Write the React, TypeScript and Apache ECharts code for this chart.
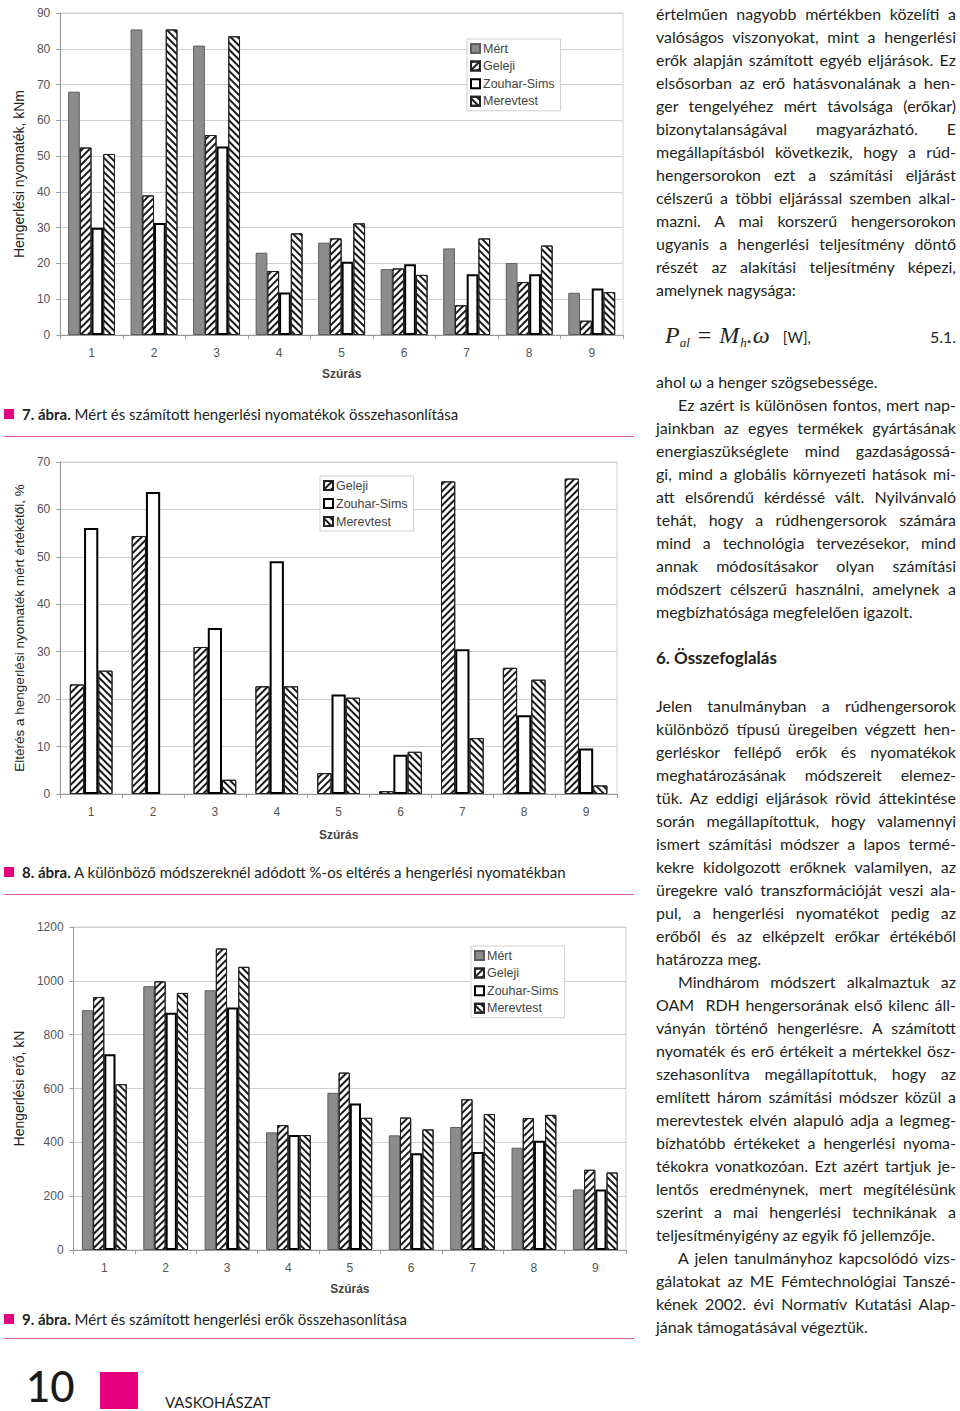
import React, { useEffect, useRef } from "react";
import * as echarts from "echarts";

// ---------- DATA ----------
const categories = ["1", "2", "3", "4", "5", "6", "7", "8", "9"];

// Fig. 7 – rolling torque, kNm
const torqueMert = [68, 85.4, 80.9, 23, 25.8, 18.4, 24.2, 20.1, 11.8];
const torqueGeleji = [52.4, 39, 55.9, 17.9, 27, 18.6, 8.3, 14.8, 4];
const torqueZouhar = [30, 31.3, 52.7, 11.9, 20.5, 19.8, 17, 17, 13];
const torqueMerev = [50.6, 85.4, 83.5, 28.4, 31.2, 16.8, 27, 25, 12];
const torqueTicks = { min: 0, max: 90, interval: 10 };

// Fig. 8 – deviation from measured torque, %
const devGeleji = [23.1, 54.4, 31, 22.7, 4.4, 0.6, 65.9, 26.6, 66.5];
const devZouhar = [56.1, 63.7, 35, 49.1, 21, 8.3, 30.5, 16.6, 9.6];
const devMerev = [26, null, 3, 22.7, 20.3, 8.9, 11.8, 24.1, 1.8];
const devTicks = { min: 0, max: 70, interval: 10 };

// Fig. 9 – rolling force, kN
const forceMert = [891, 980, 965, 437, 584, 426, 457, 380, 225];
const forceGeleji = [940, 998, 1120, 464, 659, 492, 560, 490, 298];
const forceZouhar = [727, 881, 901, 427, 544, 359, 364, 406, 225];
const forceMerev = [616, 955, 1052, 427, 491, 448, 505, 502, 288];
const forceTicks = { min: 0, max: 1200, interval: 200 };

// ---------- TEXT ----------
const captions = [
  { num: "7. ábra.", text: " Mért és számított hengerlési nyomatékok összehasonlítása" },
  { num: "8. ábra.", text: " A különböző módszereknél adódott %-os eltérés a hengerlési nyomatékban" },
  { num: "9. ábra.", text: " Mért és számított hengerlési erők összehasonlítása" },
];

const para1 = [
  "értelműen nagyobb mértékben közelíti a",
  "valóságos viszonyokat, mint a hengerlési",
  "erők alapján számított egyéb eljárások. Ez",
  "elsősorban az erő hatásvonalának a hen-",
  "ger tengelyéhez mért távolsága (erőkar)",
  "bizonytalanságával magyarázható. E",
  "megállapításból következik, hogy a rúd-",
  "hengersorokon ezt a számítási eljárást",
  "célszerű a többi eljárással szemben alkal-",
  "mazni. A mai korszerű hengersorokon",
  "ugyanis a hengerlési teljesítmény döntő",
  "részét az alakítási teljesítmény képezi,",
  "amelynek nagysága:",
];
const para2 = ["ahol ω a henger szögsebessége."];
const para3 = [
  "Ez azért is különösen fontos, mert nap-",
  "jainkban az egyes termékek gyártásának",
  "energiaszükséglete mind gazdaságossá-",
  "gi, mind a globális környezeti hatások mi-",
  "att elsőrendű kérdéssé vált. Nyilvánvaló",
  "tehát, hogy a rúdhengersorok számára",
  "mind a technológia tervezésekor, mind",
  "annak módosításakor olyan számítási",
  "módszert célszerű használni, amelynek a",
  "megbízhatósága megfelelően igazolt.",
];
const heading = "6. Összefoglalás";
const para4 = [
  "Jelen tanulmányban a rúdhengersorok",
  "különböző típusú üregeiben végzett hen-",
  "gerléskor fellépő erők és nyomatékok",
  "meghatározásának módszereit elemez-",
  "tük. Az eddigi eljárások rövid áttekintése",
  "során megállapítottuk, hogy valamennyi",
  "ismert számítási módszer a lapos termé-",
  "kekre kidolgozott erőknek valamilyen, az",
  "üregekre való transzformációját veszi ala-",
  "pul, a hengerlési nyomatékot pedig az",
  "erőből és az elképzelt erőkar értékéből",
  "határozza meg.",
];
const para5 = [
  "Mindhárom módszert alkalmaztuk az",
  "OAM\u00a0\u00a0RDH hengersorának első kilenc áll-",
  "ványán történő hengerlésre. A számított",
  "nyomaték és erő értékeit a mértekkel ösz-",
  "szehasonlítva megállapítottuk, hogy az",
  "említett három számítási módszer közül a",
  "merevtestek elvén alapuló adja a legmeg-",
  "bízhatóbb értékeket a hengerlési nyoma-",
  "tékokra vonatkozóan. Ezt azért tartjuk je-",
  "lentős eredménynek, mert megítélésünk",
  "szerint a mai hengerlési technikának a",
  "teljesítményigény az egyik fő jellemzője.",
];
const para6 = [
  "A jelen tanulmányhoz kapcsolódó vizs-",
  "gálatokat az ME Fémtechnológiai Tanszé-",
  "kének 2002. évi Normatív Kutatási Alap-",
  "jának támogatásával végeztük.",
];

// ---------- STYLES ----------
const MAGENTA = "#e5007d";
const seriesStyles: Record<string, any> = {
  "Mért": { color: "#8c8c8c", borderColor: "#5e5e5e", borderWidth: 1 },
  Geleji: {
    color: "#ffffff",
    borderColor: "#222",
    borderWidth: 1,
    decal: { symbol: "rect", symbolSize: 1, dashArrayX: [1, 0], dashArrayY: [1.5, 2.3], rotation: -Math.PI / 4, color: "#1a1a1a" },
  },
  "Zouhar-Sims": { color: "#ffffff", borderColor: "#000", borderWidth: 2 },
  Merevtest: {
    color: "#ffffff",
    borderColor: "#222",
    borderWidth: 1,
    decal: { symbol: "rect", symbolSize: 1, dashArrayX: [1, 0], dashArrayY: [2, 2.3], rotation: Math.PI / 4, color: "#1a1a1a" },
  },
};

const FONT = "Arial, 'Liberation Sans', sans-serif";

function buildOption(cfg: any) {
  return {
    animation: false,
    backgroundColor: "#fff",
    grid: { ...cfg.grid, show: true, borderColor: "#cfcfcf", borderWidth: 1, containLabel: false },
    legend: {
      orient: "vertical",
      left: cfg.legend.left,
      top: cfg.legend.top,
      icon: "rect",
      itemWidth: 9,
      itemHeight: 9,
      itemGap: cfg.legend.gap,
      padding: [3, 6, 3, 3],
      borderColor: "#cfcfcf",
      borderWidth: 1,
      backgroundColor: "#fff",
      textStyle: { fontFamily: FONT, fontSize: 12.5, color: "#444", lineHeight: 13, padding: [0, 0, 0, -2] },
      data: cfg.series.map((s: any) => s.name),
    },
    xAxis: {
      type: "category",
      data: categories,
      name: "Szúrás",
      nameLocation: "middle",
      nameGap: cfg.xNameGap,
      nameTextStyle: { fontFamily: FONT, fontSize: 12, fontWeight: "bold", color: "#444" },
      axisLine: { lineStyle: { color: "#9a9a9a" } },
      axisTick: { show: true, length: 4, lineStyle: { color: "#9a9a9a" } },
      axisLabel: { fontFamily: FONT, fontSize: 12, color: "#555", margin: 12 },
      splitLine: { show: false },
    },
    yAxis: {
      type: "value",
      min: cfg.ticks.min,
      max: cfg.ticks.max,
      interval: cfg.ticks.interval,
      name: cfg.yName,
      nameLocation: "middle",
      nameGap: cfg.yNameGap,
      nameTextStyle: { fontFamily: FONT, fontSize: cfg.yNameSize, color: "#222" },
      axisLine: { show: true, lineStyle: { color: "#9a9a9a" } },
      axisTick: { show: true, length: 4, lineStyle: { color: "#9a9a9a" } },
      axisLabel: { fontFamily: FONT, fontSize: 12, color: "#555", margin: 10, formatter: (v: number) => String(v) },
      splitLine: { show: true, lineStyle: { color: "#cfcfcf", width: 1 } },
    },
    series: cfg.series.map((s: any) => ({
      type: "bar",
      name: s.name,
      data: s.data,
      barGap: "0%",
      barCategoryGap: cfg.barCategoryGap,
      itemStyle: seriesStyles[s.name],
      emphasis: { disabled: true },
    })),
  };
}

const option7 = buildOption({
  grid: { left: 54, top: 13, width: 565, height: 322 },
  legend: { left: 463, top: 39, gap: 4.6 },
  ticks: torqueTicks,
  yName: "Hengerlési nyomaték, kNm",
  yNameGap: 33,
  yNameSize: 14,
  xNameGap: 33,
  barCategoryGap: "25%",
  series: [
    { name: "Mért", data: torqueMert },
    { name: "Geleji", data: torqueGeleji },
    { name: "Zouhar-Sims", data: torqueZouhar },
    { name: "Merevtest", data: torqueMerev },
  ],
});

const option8 = buildOption({
  grid: { left: 54, top: 15, width: 559, height: 332 },
  legend: { left: 316, top: 29, gap: 5 },
  ticks: devTicks,
  yName: "Eltérés a hengerlési nyomaték mért értékétől, %",
  yNameGap: 33,
  yNameSize: 13.5,
  xNameGap: 35,
  barCategoryGap: "31%",
  series: [
    { name: "Geleji", data: devGeleji },
    { name: "Zouhar-Sims", data: devZouhar },
    { name: "Merevtest", data: devMerev },
  ],
});

const option9 = buildOption({
  grid: { left: 69, top: 22, width: 553, height: 323 },
  legend: { left: 467, top: 41, gap: 4.6 },
  ticks: forceTicks,
  yName: "Hengerlési erő, kN",
  yNameGap: 40,
  yNameSize: 14,
  xNameGap: 33,
  barCategoryGap: "27%",
  series: [
    { name: "Mért", data: forceMert },
    { name: "Geleji", data: forceGeleji },
    { name: "Zouhar-Sims", data: forceZouhar },
    { name: "Merevtest", data: forceMerev },
  ],
});

function Chart({ option, left, top, width, height }: any) {
  const ref = useRef<HTMLDivElement>(null);
  useEffect(() => {
    if (!ref.current) return;
    const chart = echarts.init(ref.current, undefined, { renderer: "svg" });
    chart.setOption(option);
    return () => chart.dispose();
  }, [option]);
  return (
    <div style={{ position: "absolute", left, top, width, height, border: "1px solid #4a4a4a", boxSizing: "border-box", background: "#fff" }}>
      <div ref={ref} style={{ position: "absolute", left: -1, top: -1, width, height }} />
    </div>
  );
}

const TEXT_FONT = "Lato, 'Open Sans', sans-serif";
const LINE_H = 23;

function Para({ lines, y, indent }: { lines: string[]; y: number; indent?: boolean }) {
  return (
    <>
      {lines.map((ln, i) => {
        const last = i === lines.length - 1;
        const ind = indent && i === 0 ? 22 : 0;
        return (
          <div
            key={i}
            style={{
              position: "absolute",
              left: 656 + ind,
              width: 300 - ind,
              top: y + i * LINE_H - LINE_H / 2,
              height: LINE_H,
              lineHeight: LINE_H + "px",
              fontFamily: TEXT_FONT,
              fontSize: 16,
              color: "#231f20",
              whiteSpace: "nowrap",
              textAlign: last ? "left" : "justify",
              textAlignLast: last ? "left" : "justify",
            } as any}
          >
            {ln}
          </div>
        );
      })}
    </>
  );
}

function Caption({ c, y }: any) {
  return (
    <>
      <div style={{ position: "absolute", left: 4, top: y - 5, width: 10, height: 10, background: MAGENTA }} />
      <div
        style={{
          position: "absolute",
          left: 22,
          top: y - 10,
          height: 20,
          lineHeight: "20px",
          fontFamily: TEXT_FONT,
          fontSize: 15,
          color: "#231f20",
          whiteSpace: "nowrap",
        }}
      >
        <b>{c.num}</b>
        {c.text}
      </div>
    </>
  );
}

const SERIF = "'Liberation Serif', 'DejaVu Serif', serif";

export default function App() {
  return (
    <div style={{ position: "absolute", left: 0, top: 0, width: 960, height: 1411, background: "#fff", overflow: "hidden" }}>
      <Chart option={option7} left={4} top={0} width={630} height={397} />
      <Caption c={captions[0]} y={414} />
      <div style={{ position: "absolute", left: 4, top: 436, width: 630, height: 1, background: "#d9589f" }} />

      <Chart option={option8} left={4} top={447} width={630} height={406} />
      <Caption c={captions[1]} y={872} />
      <div style={{ position: "absolute", left: 4, top: 894, width: 630, height: 1, background: "#d9589f" }} />

      <Chart option={option9} left={4} top={905} width={629} height={395} />
      <Caption c={captions[2]} y={1319} />
      <div style={{ position: "absolute", left: 4, top: 1338, width: 630, height: 1, background: "#d9589f" }} />

      <Para lines={para1} y={13} />
      <div style={{ position: "absolute", left: 665, top: 318, height: 34, lineHeight: "34px", whiteSpace: "nowrap", color: "#231f20" }}>
        <span style={{ fontFamily: SERIF, fontStyle: "italic", fontSize: 24 }}>P</span>
        <sub style={{ fontFamily: SERIF, fontStyle: "italic", fontSize: 13 }}>al</sub>
        <span style={{ fontFamily: SERIF, fontSize: 24, marginLeft: 8, marginRight: 8 }}>=</span>
        <span style={{ fontFamily: SERIF, fontStyle: "italic", fontSize: 24 }}>M</span>
        <sub style={{ fontFamily: SERIF, fontStyle: "italic", fontSize: 13, marginLeft: 1 }}>h</sub>
        <span style={{ fontFamily: SERIF, fontStyle: "italic", fontSize: 24 }}>.ω</span>
        <span style={{ fontFamily: TEXT_FONT, fontSize: 15, marginLeft: 13 }}>[W],</span>
      </div>
      <div style={{ position: "absolute", left: 900, width: 56, top: 325, height: 23, lineHeight: "23px", textAlign: "right", fontFamily: TEXT_FONT, fontSize: 16, color: "#231f20" }}>
        5.1.
      </div>
      <Para lines={para2} y={381} />
      <Para lines={para3} y={404} indent />
      <div style={{ position: "absolute", left: 656, top: 646, height: 24, lineHeight: "24px", fontFamily: TEXT_FONT, fontWeight: "bold", fontSize: 17, color: "#231f20" }}>
        {heading}
      </div>
      <Para lines={para4} y={705} />
      <Para lines={para5} y={981} indent />
      <Para lines={para6} y={1257} indent />

      <div style={{ position: "absolute", left: 26, top: 1362, height: 48, lineHeight: "48px", fontFamily: TEXT_FONT, fontSize: 42, fontWeight: 500, color: "#1a1a1a" }}>
        10
      </div>
      <div style={{ position: "absolute", left: 100, top: 1372, width: 38, height: 37, background: MAGENTA }} />
      <div style={{ position: "absolute", left: 165, top: 1392, height: 20, lineHeight: "20px", fontFamily: TEXT_FONT, fontSize: 15, color: "#231f20" }}>
        VASKOHÁSZAT
      </div>
    </div>
  );
}
